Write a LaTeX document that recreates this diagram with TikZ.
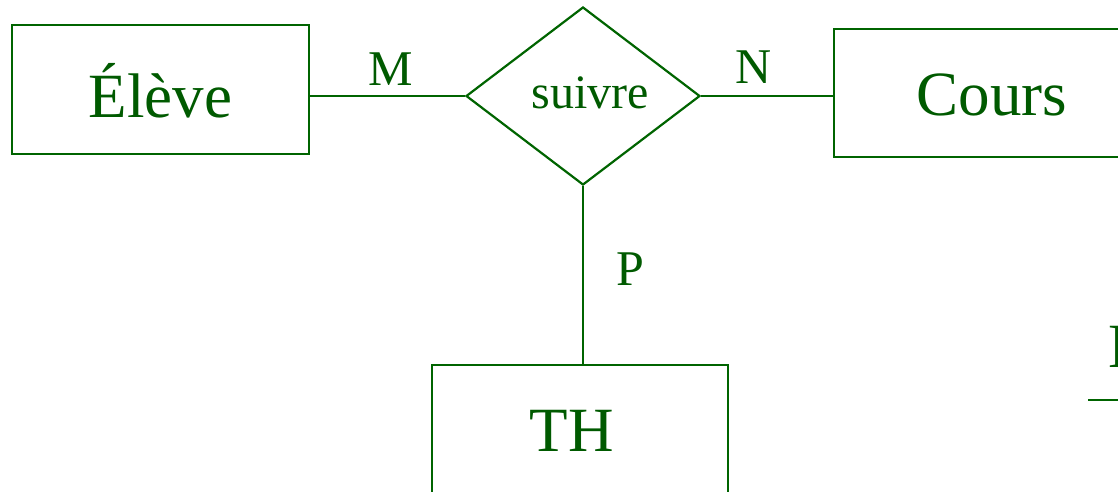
\documentclass[tikz,border=0pt]{standalone}
\usepackage{fontspec}
\setmainfont{Liberation Serif}
\usetikzlibrary{shapes.geometric}
\definecolor{erg}{RGB}{0,100,0}
\definecolor{ergtext}{RGB}{0,90,0}
\tikzset{
  entity/.style={draw=erg, line width=2.2pt, rectangle, inner sep=0pt},
  relation/.style={draw=erg, line width=2.2pt, diamond, inner sep=0pt, aspect=1.3},
  bigtext/.style={text=ergtext, font=\fontsize{63}{70}\selectfont, inner sep=0pt, anchor=base},
  smalltext/.style={text=ergtext, font=\fontsize{48}{54}\selectfont, inner sep=0pt, anchor=base},
  cardtext/.style={text=ergtext, font=\fontsize{50}{56}\selectfont, inner sep=0pt, anchor=base},
  link/.style={draw=erg, line width=2.2pt}
}
\begin{document}
\begin{tikzpicture}[x=1pt, y=-1pt]
  \useasboundingbox (0,0) rectangle (1118,491);
  \clip (0,0) rectangle (1118,491);

  % entities
  \node[entity, minimum width=297pt, minimum height=129pt] (eleve) at (160.5,89.5) {};
  \node[bigtext] (eleveT) at (160.5,117) {Élève};
  \node[entity, minimum width=316pt, minimum height=128pt] (cours) at (992,93) {};
  \node[bigtext] (coursT) at (992,115) {Cours};
  \node[entity, minimum width=296pt, minimum height=128pt] (th) at (580,429) {};
  \node[bigtext] (thT) at (571.5,451) {TH};

  % relationship
  \node[relation, minimum width=234pt, minimum height=178pt] (rel) at (583,96) {};
  \node[smalltext] (relT) at (590,108) {suivre};

  % connectors
  \draw[link] (rel.west -| eleve.east) -- (rel.west);
  \draw[link] (rel.east) -- (rel.east -| cours.west);
  \draw[link] (rel.south) -- (rel.south |- th.north);

  % cardinalities
  \node[cardtext] (cardM) at (391,85) {M};
  \node[cardtext] (cardN) at (754,83) {N};
  \node[cardtext] (cardP) at (630,285) {P};

  % attribute at the right edge
  \node[bigtext, anchor=base west] (attr) at (1108,367) {D};
  \coordinate (ul) at (1088,400);
  \draw[link] (ul) -- ++(40,0);
\end{tikzpicture}
\end{document}
